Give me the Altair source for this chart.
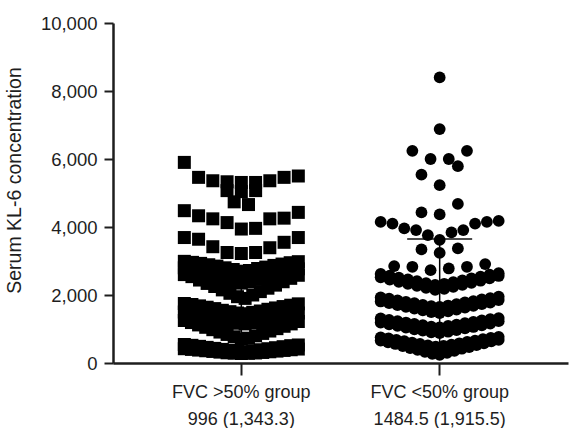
import altair as alt
import pandas as pd

# ---------------- data ----------------
GROUPS = ["FVC >50% group", "FVC <50% group"]
SUMMARY = ["996 (1,343.3)", "1484.5 (1,915.5)"]

# Serum KL-6 values, FVC >50% group, listed by horizontal row of the swarm
high_rows = [
    [5310, 5310, 5330, 5360, 5360, 5460, 5460, 5500, 5900],
    [5040, 5070, 5070],
    [4660, 4740],
    [3940, 3960, 4130, 4240, 4240, 4260, 4330, 4430, 4480],
    [3220, 3250, 3250, 3390, 3420, 3550, 3640, 3690, 3690],
    [2700, 2720, 2750, 2780, 2800, 2820, 2850, 2870, 2890, 2910, 2930, 2950, 2960, 2980, 2990],
    [2350, 2390, 2420, 2460, 2500, 2530, 2570, 2600, 2630, 2660, 2690, 2720, 2750, 2770, 2800],
    [1900, 1950, 2000, 2050, 2100, 2150, 2200, 2250, 2290, 2340, 2390, 2440, 2490, 2540, 2580, 2600],
    [1450, 1470, 1490, 1510, 1530, 1550, 1580, 1600, 1620, 1640, 1660, 1680, 1700, 1720, 1740, 1750],
    [1150, 1170, 1190, 1210, 1240, 1260, 1280, 1300, 1320, 1350, 1370, 1390, 1420, 1440, 1470, 1500],
    [700, 730, 770, 800, 840, 870, 910, 940, 980, 1010, 1050, 1080, 1120, 1150, 1190, 1220, 1250],
    [330, 340, 360, 370, 390, 400, 420, 430, 450, 460, 480, 490, 510, 520, 530, 545],
    [280, 285, 290, 295, 300, 310, 320, 330, 340, 350, 360, 370, 380, 390, 400, 410, 420],
]

# Serum KL-6 values, FVC <50% group
low_rows = [
    [8400],
    [6880],
    [6000, 6000, 6240, 6240],
    [5230, 5540, 5790],
    [4370, 4430, 4680],
    [3620, 3760, 3840, 3910, 3910, 3960, 4100, 4100, 4150, 4150, 4180],
    [3240, 3340, 3370],
    [2730, 2780, 2830, 2830, 2850, 2910],
    [2300, 2330, 2350, 2380, 2410, 2430, 2460, 2490, 2510, 2540, 2570, 2600, 2620, 2640],
    [2150, 2180, 2210, 2240, 2270, 2300, 2330, 2360, 2390, 2420, 2450, 2490, 2520, 2560],
    [1650, 1670, 1690, 1710, 1730, 1760, 1780, 1800, 1820, 1840, 1870, 1890, 1910, 1930, 1950],
    [1470, 1500, 1520, 1550, 1570, 1600, 1630, 1650, 1680, 1700, 1730, 1760, 1780, 1810, 1850],
    [1050, 1070, 1090, 1110, 1130, 1150, 1170, 1190, 1210, 1230, 1250, 1270, 1290, 1310, 1320],
    [880, 900, 920, 950, 970, 990, 1020, 1040, 1060, 1090, 1110, 1140, 1160, 1190, 1230],
    [480, 500, 520, 540, 560, 580, 600, 620, 640, 660, 680, 700, 720, 740, 755, 770],
    [240, 270, 300, 330, 360, 390, 420, 440, 470, 500, 530, 560, 580, 610, 640, 660, 680],
]

# error bars drawn in the reference (bottom, top)
err_lo = [300, 400]
err_hi = [2735, 3650]

# ---------------- layout helpers ----------------
W, H = 455, 340
PAD_OUTER = 0.147
STEP = W / (len(GROUPS) + 2 * PAD_OUTER)   # band width in px (paddingInner = 0)


def swarm(rows, slot, half_width, first):
    """Prism-like row layout: lowest value in the centre, others alternate outwards.
    first = +1 puts the second point on the right, -1 on the left."""
    out = []
    for row in rows:
        vals = sorted(row)
        n = len(vals)
        spacing = slot if n < 2 else min(slot, 2 * half_width / (n - 1))
        for i, v in enumerate(vals):
            if n % 2:
                k = ((i + 1) // 2) * (first if i % 2 else -first)
            else:
                k = (i // 2 + 0.5) * (first if i % 2 == 0 else -first)
            out.append((v, k * spacing))
    return out


def label(i):
    return GROUPS[i] + "|" + SUMMARY[i]


recs = []
for v, dx in swarm(high_rows, 14.3, 57, 1):
    recs.append({"g": label(0), "value": v, "dx": dx, "kind": "sq"})
for v, dx in swarm(low_rows, 18.2, 59, -1):
    recs.append({"g": label(1), "value": v, "dx": dx, "kind": "ci"})
df = pd.DataFrame(recs)

err = pd.DataFrame({"g": [label(0), label(1)], "lo": err_lo, "hi": err_hi})

order = [label(0), label(1)]
FONT = "Liberation Sans"
INK = "#1e1e1e"

x_enc = alt.X(
    "g:N",
    sort=order,
    scale=alt.Scale(paddingInner=0, paddingOuter=PAD_OUTER),
    axis=alt.Axis(
        title=None,
        labelAngle=0,
        labelExpr="split(datum.label, '|')",
        labelFontSize=18,
        labelLineHeight=27.5,
        labelLimit=0,
        labelPadding=8,
        tickSize=12,
        tickWidth=2,
        domainWidth=2.5,
    ),
)
y_scale = alt.Scale(domain=[0, 10000], nice=False, zero=True)
y_enc = alt.Y(
    "value:Q",
    scale=y_scale,
    axis=alt.Axis(
        values=[0, 2000, 4000, 6000, 8000, 10000],
        format=",d",
        labelFontSize=18.5,
        labelPadding=7,
        tickSize=9,
        tickWidth=2,
        domainWidth=2.5,
        title="Serum KL-6 concentration",
        titleFontSize=19.5,
        titleFontWeight="normal",
        titleX=-88.5,
        titleY=157,
    ),
)
xoff = alt.XOffset("dx:Q", scale=alt.Scale(domain=[-STEP / 2, STEP / 2]))

rule = alt.Chart(err).mark_rule(color="#000", strokeWidth=1.5).encode(
    x=x_enc, y=alt.Y("lo:Q", scale=y_scale), y2="hi:Q"
)
cap = alt.Chart(err).mark_tick(color="#000", size=65, thickness=2, orient="horizontal").encode(
    x=x_enc, y=alt.Y("hi:Q", scale=y_scale)
)

squares = alt.Chart(df).transform_filter("datum.kind == 'sq'").mark_square(
    color="#000", opacity=1, size=169
).encode(x=x_enc, xOffset=xoff, y=y_enc)

circles = alt.Chart(df).transform_filter("datum.kind == 'ci'").mark_circle(
    color="#000", opacity=1, size=139
).encode(x=x_enc, xOffset=xoff, y=y_enc)

chart = (
    alt.layer(rule, cap, squares, circles)
    .properties(
        width=W,
        height=H,
        autosize=alt.AutoSizeParams(type="none"),
        padding={"left": 113, "top": 23, "right": 5, "bottom": 65},
        background="white",
    )
    .configure_view(stroke=None)
    .configure_axis(
        grid=False,
        labelFont=FONT,
        titleFont=FONT,
        labelColor=INK,
        titleColor=INK,
        domainColor=INK,
        tickColor=INK,
    )
)

chart.save("out.html", embed_options={"renderer": "svg", "actions": False})
